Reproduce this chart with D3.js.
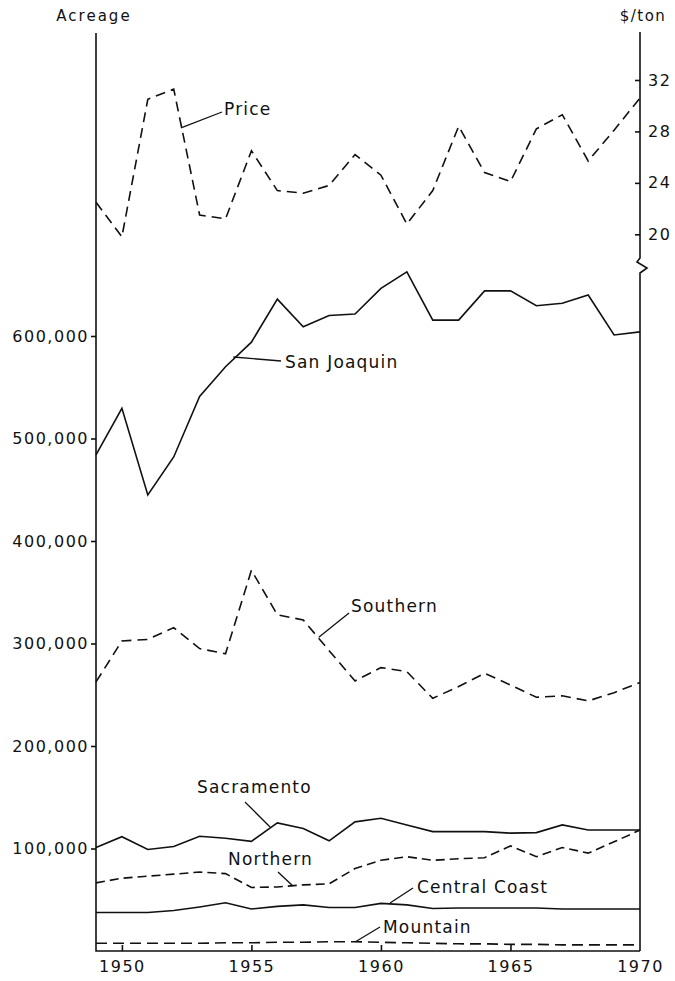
<!DOCTYPE html>
<html>
<head>
<meta charset="utf-8">
<script src="https://cdn.jsdelivr.net/npm/d3@7"></script>
<style>
	body { margin: 0; background: #fff; }
	svg { display: block; }
	text { font-family: "DejaVu Sans", sans-serif; fill: #111; }
	.line { fill: none; stroke: #111; stroke-width: 1.6; }
	.axis path, .axis line { stroke: #111; stroke-width: 1.6; }
	.axis text { font-size: 16px; letter-spacing: 1.5px; }
	.series-label { font-size: 17px; letter-spacing: 1.2px; }
	.leader { stroke: #111; stroke-width: 1.3; fill: none; }
	.frame { stroke: #111; stroke-width: 1.6; fill: none; }
</style>
</head>
<body>
<svg id="chart" width="675" height="981"></svg>
<script>
// ---- data ----
var years = [1949, 1950, 1951, 1952, 1953, 1954, 1955, 1956, 1957, 1958, 1959,
	1960, 1961, 1962, 1963, 1964, 1965, 1966, 1967, 1968, 1969, 1970];

// $/ton
var price = [22.5, 19.8, 30.5, 31.3, 21.5, 21.2, 26.5, 23.4, 23.2, 23.8, 26.2,
	24.6, 20.8, 23.4, 28.4, 24.8, 24.1, 28.2, 29.3, 25.7, 28.1, 30.6];

// acreage
var sanJoaquin = [484000, 529500, 445000, 482000, 541000, 570000, 594000, 636000, 609000, 620000, 621500,
	646500, 662500, 615500, 615500, 644000, 644000, 629500, 632000, 640000, 601000, 604000];
var southern = [262500, 302500, 304000, 315500, 295000, 290000, 371500, 328000, 323000, 293000, 263500,
	276500, 272500, 246500, 258000, 271000, 259500, 247500, 249000, 244000, 252000, 262000];
var sacramento = [101000, 111500, 99000, 102000, 112000, 110000, 107000, 125000, 119500, 107500, 126000,
	129500, 123000, 116500, 116500, 116500, 115000, 115500, 123000, 118000, 118000, 118000];
var northern = [66500, 71000, 73000, 75000, 77000, 75500, 62000, 62500, 64500, 65500, 80500,
	88500, 92000, 88500, 90000, 91000, 102500, 92000, 101000, 95500, 106500, 118000];
var centralCoast = [37500, 37500, 37500, 39500, 43000, 47000, 41000, 43500, 45000, 42500, 42500,
	46500, 45000, 41500, 42000, 42000, 42000, 42000, 41000, 41000, 41000, 41000];
var mountain = [7500, 7500, 7500, 7500, 7500, 8000, 8000, 8500, 8500, 9000, 9000,
	8500, 8000, 7500, 7000, 7000, 6500, 6500, 6000, 6000, 6000, 6000];

var acreTicks = [100000, 200000, 300000, 400000, 500000, 600000];
var priceTicks = [20, 24, 28, 32];
var yearTicks = [1950, 1955, 1960, 1965, 1970];

// ---- layout ----
var svg = d3.select("#chart");
var plotLeft = 96, plotRight = 640, plotTop = 33, plotBottom = 951;

var x = d3.scaleLinear().domain([1949, 1970]).range([plotLeft, plotRight]);
var y = d3.scaleLinear().domain([0, 600000]).range([plotBottom, 336]);
var yp = d3.scaleLinear().domain([20, 32]).range([234.3, 80]);

var series = [
	{ name: "Price", values: price, scale: yp, dash: "10,6" },
	{ name: "San Joaquin", values: sanJoaquin, scale: y, dash: null },
	{ name: "Southern", values: southern, scale: y, dash: "10,6" },
	{ name: "Sacramento", values: sacramento, scale: y, dash: null },
	{ name: "Northern", values: northern, scale: y, dash: "9,5" },
	{ name: "Central Coast", values: centralCoast, scale: y, dash: null },
	{ name: "Mountain", values: mountain, scale: y, dash: "11,6" }
];

// label text position + leader line (from near the text to a point on the line)
var labels = [
	{ text: "Price", tx: 224, ty: 115, lx: 222, ly: 112, year: 1952.28, value: 28.27, scale: yp },
	{ text: "San Joaquin", tx: 285, ty: 368, lx: 281, ly: 361, year: 1954.3, value: 579500, scale: y },
	{ text: "Southern", tx: 351, ty: 612, lx: 349, ly: 613, year: 1957.6, value: 306000, scale: y },
	{ text: "Sacramento", tx: 197, ty: 793, lx: 245, ly: 802, year: 1955.72, value: 121000, scale: y },
	{ text: "Northern", tx: 228, ty: 865, lx: 278, ly: 872, year: 1956.6, value: 63400, scale: y },
	{ text: "Central Coast", tx: 417, ty: 893, lx: 413, ly: 888, year: 1960.35, value: 46800, scale: y },
	{ text: "Mountain", tx: 383, ty: 933, lx: 380, ly: 927, year: 1959, value: 8800, scale: y }
];

// ---- lines ----
series.forEach(function (s) {
	var line = d3.line()
		.x(function (d, i) { return x(years[i]); })
		.y(function (d) { return s.scale(d); });
	svg.append("path")
		.attr("class", "line")
		.attr("d", line(s.values))
		.style("stroke-dasharray", s.dash);
});

// ---- axes ----
var gLeft = svg.append("g").attr("class", "axis")
	.attr("transform", "translate(" + plotLeft + ",0)")
	.call(d3.axisLeft(y).tickValues(acreTicks).tickFormat(d3.format(",")).tickSizeInner(5).tickSizeOuter(0).tickPadding(2));
gLeft.select(".domain").remove();

var gRight = svg.append("g").attr("class", "axis")
	.attr("transform", "translate(" + plotRight + ",0)")
	.call(d3.axisRight(yp).tickValues(priceTicks).tickSizeInner(-5).tickSizeOuter(0).tickPadding(8));
gRight.select(".domain").remove();

var gBottom = svg.append("g").attr("class", "axis")
	.attr("transform", "translate(0," + plotBottom + ")")
	.call(d3.axisBottom(x).tickValues(yearTicks).tickFormat(d3.format("d")).tickSizeInner(-6).tickSizeOuter(0).tickPadding(10));
gBottom.select(".domain").remove();
gBottom.selectAll(".tick").filter(function (d) { return d == 1970; }).select("line").remove();

// frame lines (right one has the scale break)
svg.append("path").attr("class", "frame")
	.attr("d", "M" + plotLeft + "," + plotTop + "V" + plotBottom + "H" + plotRight);
svg.append("path").attr("class", "frame")
	.attr("d", "M" + plotRight + "," + (plotTop - 1) + "V258l-3,4l10,6l-7,5V" + plotBottom);

// axis titles
svg.append("text").attr("x", 94).attr("y", 21).attr("text-anchor", "middle")
	.style("font-size", "15px").style("letter-spacing", "2px").text("Acreage");
svg.append("text").attr("x", 643).attr("y", 21).attr("text-anchor", "middle")
	.style("font-size", "15px").style("letter-spacing", "1.5px").text("$/ton");

// ---- series labels ----
labels.forEach(function (l) {
	svg.append("line").attr("class", "leader")
		.attr("x1", l.lx).attr("y1", l.ly)
		.attr("x2", x(l.year)).attr("y2", l.scale(l.value));
	svg.append("text").attr("class", "series-label")
		.attr("x", l.tx).attr("y", l.ty).text(l.text);
});
</script>
</body>
</html>
